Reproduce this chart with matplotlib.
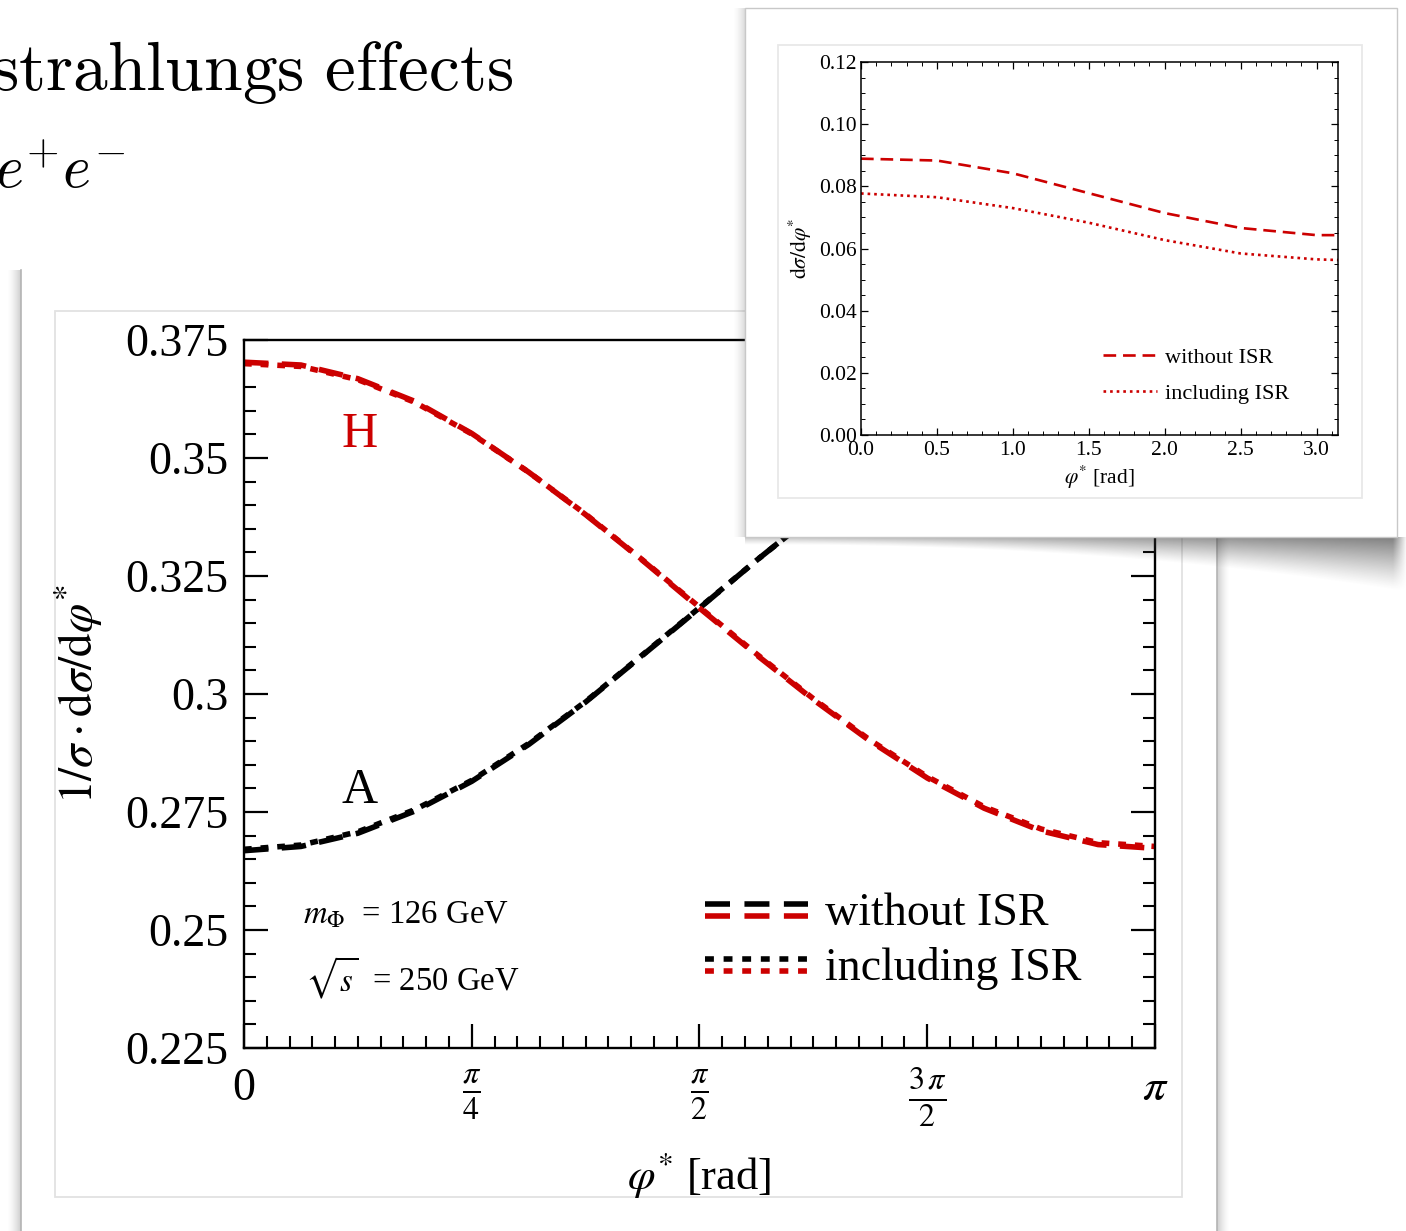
import numpy as np
import matplotlib
matplotlib.use('Agg')
import matplotlib.pyplot as plt
from matplotlib.lines import Line2D
from matplotlib.patches import Rectangle
from matplotlib.legend_handler import HandlerBase
from matplotlib.ticker import FixedLocator, MultipleLocator, FormatStrFormatter

plt.rcParams['font.family'] = ['Liberation Serif', 'DejaVu Serif']
plt.rcParams['mathtext.fontset'] = 'stix'

# ---------------- data ----------------
# main plot: phi* at k*pi/16, k = 0..16
phi_main = np.array([0, 1, 2, 3, 4, 5, 6, 7, 8, 9, 10, 11, 12, 13, 14, 15, 16]) * np.pi / 16
H_noISR = [0.3703, 0.3697, 0.3668, 0.3620, 0.3552, 0.3470, 0.3380, 0.3283, 0.3182,
           0.3083, 0.2988, 0.2900, 0.2822, 0.2758, 0.2710, 0.2681, 0.2673]
H_ISR   = [0.3700, 0.3694, 0.3666, 0.3618, 0.3551, 0.3470, 0.3381, 0.3284, 0.3184,
           0.3085, 0.2990, 0.2902, 0.2825, 0.2761, 0.2714, 0.2685, 0.2677]
A_noISR = [0.2668, 0.2677, 0.2705, 0.2752, 0.2815, 0.2893, 0.2983, 0.3082, 0.3182,
           0.3283, 0.3380, 0.3470, 0.3552, 0.3620, 0.3668, 0.3697, 0.3703]
A_ISR   = [0.2671, 0.2680, 0.2708, 0.2755, 0.2817, 0.2895, 0.2984, 0.3083, 0.3183,
           0.3283, 0.3379, 0.3468, 0.3549, 0.3617, 0.3665, 0.3694, 0.3700]
main_yticks = [0.225, 0.25, 0.275, 0.3, 0.325, 0.35, 0.375]
main_yticklabels = ['0.225', '0.25', '0.275', '0.3', '0.325', '0.35', '0.375']
main_xticks = [0, np.pi / 4, np.pi / 2, 3 * np.pi / 4, np.pi]
main_xticklabels = ['0', r'$\frac{\pi}{4}$', r'$\frac{\pi}{2}$', r'$\frac{3\,\pi}{2}$', r'$\pi$']

# inset: d sigma / d phi*
phi_inset = [0.0, 0.5, 1.0, 1.5, 2.0, 2.5, 3.0, np.pi]
inset_noISR = [0.0889, 0.0883, 0.0842, 0.0778, 0.0714, 0.0666, 0.0643, 0.0643]
inset_ISR   = [0.0777, 0.0765, 0.0730, 0.0683, 0.0627, 0.0584, 0.0565, 0.0563]

RED = '#cc0000'
W, H = 1406, 1231

fig = plt.figure(figsize=(W / 100, H / 100), dpi=100)
fig.patch.set_facecolor('white')


def fx(x):
    return x / W


def fy(y):
    return 1 - y / H


def prect(x0, y0, x1, y1, **kw):
    r = Rectangle((fx(x0), fy(y1)), fx(x1) - fx(x0), fy(y0) - fy(y1),
                  transform=fig.transFigure, **kw)
    fig.add_artist(r)
    return r


def pline(xs, ys, **kw):
    l = Line2D([fx(x) for x in xs], [fy(y) for y in ys], transform=fig.transFigure, **kw)
    fig.add_artist(l)
    return l


def grad(x0, y0, x1, y1, orient, amax, zorder):
    """Soft gray shadow strip; orient: 'l2r' dark on right, 'r2l' dark on left."""
    a = fig.add_axes([fx(x0), fy(y1), fx(x1) - fx(x0), fy(y0) - fy(y1)], zorder=zorder)
    n = 64
    t = np.linspace(0, 1, n)
    if orient == 'l2r':
        alpha = amax * t ** 1.5
    else:
        alpha = amax * (1 - t) ** 1.5
    img = np.zeros((2, n, 4))
    img[..., :3] = 0.35
    img[..., 3] = alpha
    a.imshow(img, aspect='auto', interpolation='bilinear')
    a.set_axis_off()
    return a


# ---------------- slide title fragments ----------------
fig.text(fx(513), fy(90), r'$\mathrm{strahlungs\ effects}$', fontsize=50,
         ha='right', va='baseline', math_fontfamily='cm')
fig.text(fx(126), fy(188), r'$e^{+}e^{-}$', fontsize=43,
         ha='right', va='baseline', math_fontfamily='cm')

# ---------------- main panel decoration ----------------
grad(7, 270, 21, 1231, 'l2r', 0.30, -3)
pline([20.5, 20.5], [270, 1231], color='#b4b4b4', lw=1.2, zorder=-2)
grad(1217, 270, 1230, 1231, 'r2l', 0.30, -3)
pline([1216.5, 1216.5], [270, 1231], color='#b4b4b4', lw=1.2, zorder=-2)
prect(55, 311, 1182, 1197, facecolor='none', edgecolor='#e2e2e2', lw=1.3, zorder=-2)

# ---------------- main axes ----------------
ax = fig.add_axes([fx(244), fy(1048), fx(1155) - fx(244), fy(340) - fy(1048)], zorder=0)
ax.set_facecolor('white')
ax.set_xlim(0, np.pi)
ax.set_ylim(0.225, 0.375)

LW = 4.0
DASH = (4.4, 2.4)
DOT = (1.4, 1.6)
ax.plot(phi_main, A_noISR, color='black', lw=LW, dashes=DASH, dash_capstyle='butt')
ax.plot(phi_main, A_ISR, color='black', lw=LW, dashes=DOT, dash_capstyle='butt')
ax.plot(phi_main, H_noISR, color=RED, lw=LW, dashes=DASH, dash_capstyle='butt')
ax.plot(phi_main, H_ISR, color=RED, lw=LW, dashes=DOT, dash_capstyle='butt')

ax.xaxis.set_major_locator(FixedLocator(main_xticks))
ax.xaxis.set_minor_locator(FixedLocator(np.arange(41) * np.pi / 40))
ax.set_xticklabels(main_xticklabels)
ax.yaxis.set_major_locator(FixedLocator(main_yticks))
ax.yaxis.set_minor_locator(MultipleLocator(0.005))
ax.set_yticklabels(main_yticklabels)
ax.tick_params(which='both', direction='in', top=False, right=True, left=True, bottom=True,
               labelright=False, labeltop=False)
ax.tick_params(which='major', length=17, width=1.6, labelsize=33)
ax.tick_params(which='minor', length=8.5, width=1.5)
ax.tick_params(axis='y', which='major', pad=11)
ax.tick_params(axis='x', which='major', pad=14)
for s in ax.spines.values():
    s.set_linewidth(1.7)

ax.set_xlabel(r'$\varphi^{*}$ [rad]', fontsize=32, va='center')
ax.xaxis.set_label_coords(0.5, -0.179)
ax.set_ylabel(r'$1/\sigma\cdot\mathrm{d}\sigma/\mathrm{d}\varphi^{*}$', fontsize=34, va='center')
ax.yaxis.set_label_coords(-0.182, 0.5)

ax.text(0.127, 0.866, 'H', color=RED, fontsize=36, ha='center', va='center',
        transform=ax.transAxes)
ax.text(0.127, 0.364, 'A', color='black', fontsize=36, ha='center', va='center',
        transform=ax.transAxes)
ax.text(0.0648, 0.188, r'$m_{\Phi}$  = 126 GeV', fontsize=23.5, ha='left', va='center',
        transform=ax.transAxes)
ax.text(0.0670, 0.0989, r'$\sqrt{s}$  = 250 GeV', fontsize=23.5, ha='left', va='center',
        transform=ax.transAxes)


class TwoTone(HandlerBase):
    def create_artists(self, legend, orig_handle, xdescent, ydescent, width, height,
                       fontsize, trans):
        top, bot = orig_handle
        arts = []
        for h, frac in ((top, 0.66), (bot, 0.30)):
            l = Line2D([-xdescent, -xdescent + width], [height * frac - ydescent] * 2)
            l.update_from(h)
            l.set_transform(trans)
            arts.append(l)
        return arts


hd_k = Line2D([], [], color='black', lw=LW, dashes=(4.5, 2.6), dash_capstyle='butt')
hd_r = Line2D([], [], color=RED, lw=LW, dashes=(4.5, 2.6), dash_capstyle='butt')
ht_k = Line2D([], [], color='black', lw=LW, dashes=(1.6, 1.75), dash_capstyle='butt')
ht_r = Line2D([], [], color=RED, lw=LW, dashes=(1.6, 1.75), dash_capstyle='butt')
ax.legend([(hd_k, hd_r), (ht_k, ht_r)], ['without ISR', 'including ISR'],
          handler_map={tuple: TwoTone()}, loc='upper left', bbox_to_anchor=(0.506, 0.219),
          frameon=False, fontsize=33, handlelength=2.25, handletextpad=0.37,
          labelspacing=0.26, borderpad=0, borderaxespad=0)

# ---------------- inset panel ----------------
grad(733, 8, 745, 537, 'l2r', 0.22, 4)
prect(745, 8, 1397, 537, facecolor='white', edgecolor='#c8c8c8', lw=1.0, zorder=5)
prect(778, 45, 1362, 498, facecolor='none', edgecolor='#e8e8e8', lw=1.3, zorder=6)

# curled shadow below inset
sh = fig.add_axes([fx(745), fy(600), fx(1406) - fx(745), fy(537) - fy(600)], zorder=4)
xs = np.arange(745, 1406) + 0.5
ys = np.arange(537, 600) + 0.5
s = np.clip((xs - 755) / 642, 0, 1)
depth = 8 + 46 * s ** 2.2
a0 = 0.30 + 0.35 * s
endfade = np.clip((1406 - xs) / 14, 0, 1)
T = (ys[:, None] - 537) / depth[None, :]
alpha = a0[None, :] * np.clip(1 - T, 0, 1) ** 1.2 * endfade[None, :]
img = np.zeros((len(ys), len(xs), 4))
img[..., :3] = 0.22
img[..., 3] = alpha
sh.imshow(img, aspect='auto', interpolation='bilinear')
sh.set_axis_off()

# ---------------- inset axes ----------------
axi = fig.add_axes([fx(861), fy(435), fx(1338) - fx(861), fy(62) - fy(435)], zorder=10)
axi.set_facecolor('white')
axi.set_xlim(0, np.pi)
axi.set_ylim(0, 0.12)
axi.plot(phi_inset, inset_noISR, color=RED, lw=1.9, dashes=(4.8, 2.6), dash_capstyle='butt')
axi.plot(phi_inset, inset_ISR, color=RED, lw=1.9, dashes=(1.0, 1.5), dash_capstyle='butt')
axi.xaxis.set_major_locator(MultipleLocator(0.5))
axi.xaxis.set_minor_locator(MultipleLocator(0.1))
axi.yaxis.set_major_locator(MultipleLocator(0.02))
axi.yaxis.set_minor_locator(MultipleLocator(0.005))
axi.xaxis.set_major_formatter(FormatStrFormatter('%.1f'))
axi.yaxis.set_major_formatter(FormatStrFormatter('%.2f'))
axi.tick_params(which='both', direction='in', top=True, right=True, labelsize=15.5)
axi.tick_params(which='major', length=5, width=0.9)
axi.tick_params(which='minor', length=3, width=0.7)
axi.tick_params(axis='y', which='major', pad=3)
axi.tick_params(axis='x', which='major', pad=4)
for s_ in axi.spines.values():
    s_.set_linewidth(1.1)
axi.set_xlabel(r'$\varphi^{*}$ [rad]', fontsize=15.5, va='center')
axi.xaxis.set_label_coords(0.5, -0.115)
axi.set_ylabel(r'$\mathrm{d}\sigma/\mathrm{d}\varphi^{*}$', fontsize=15.5, va='center')
axi.yaxis.set_label_coords(-0.128, 0.5)
hi1 = Line2D([], [], color=RED, lw=1.9, dashes=(4.8, 2.6), dash_capstyle='butt')
hi2 = Line2D([], [], color=RED, lw=1.9, dashes=(1.0, 1.5), dash_capstyle='butt')
axi.legend([hi1, hi2], ['without ISR', 'including ISR'], loc='upper left',
           bbox_to_anchor=(0.507, 0.236), frameon=False, fontsize=16, handlelength=2.45,
           handletextpad=0.36, labelspacing=0.72, borderpad=0, borderaxespad=0)

fig.savefig('out.png', dpi=100, facecolor='white')
